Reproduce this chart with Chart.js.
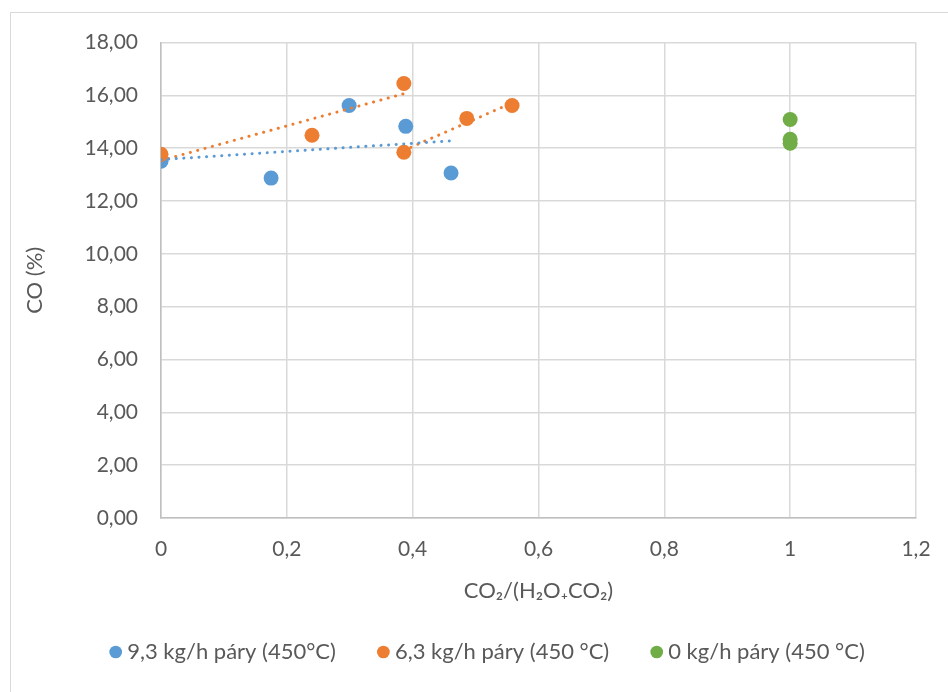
<!DOCTYPE html>
<html>
<head>
<meta charset="utf-8">
<script src="https://cdn.jsdelivr.net/npm/chart.js@4.4.1/dist/chart.umd.min.js"></script>
<style>
  html, body { margin: 0; padding: 0; background: #ffffff; overflow: hidden; width: 948px; height: 692px; }
  #frame { position: absolute; left: 10px; top: 12px; width: 952px; height: 690px; border: 1.5px solid #D9D9D9; box-sizing: border-box; }
  #wrap { position: absolute; left: 10px; top: 7px; width: 960px; height: 666px; }
</style>
</head>
<body>
<div id="frame"></div>
<div id="wrap"><canvas id="c" width="960" height="666"></canvas></div>
<script>
// ---- data ----
const seriesNames = ['9,3 kg/h páry (450°C)', '6,3 kg/h páry (450 °C)', '0 kg/h páry (450 °C)'];
const steam93X = [0, 0.175, 0.299, 0.389, 0.461];
const steam93Y = [13.51, 12.87, 15.62, 14.83, 13.06];
const steam63X = [0, 0.24, 0.386, 0.386, 0.486, 0.558];
const steam63Y = [13.77, 14.49, 16.45, 13.85, 15.13, 15.62];
const steam63TrendGroup = [0, 0, 0, 1, 1, 1];
const steam0X = [1, 1, 1];
const steam0Y = [15.09, 14.34, 14.19];
const xTickValues = [0, 0.2, 0.4, 0.6, 0.8, 1, 1.2];
const xTickLabels = ['0', '0,2', '0,4', '0,6', '0,8', '1', '1,2'];
const yTickValues = [0, 2, 4, 6, 8, 10, 12, 14, 16, 18];
const yTickLabels = ['0,00', '2,00', '4,00', '6,00', '8,00', '10,00', '12,00', '14,00', '16,00', '18,00'];
const xTitle = 'CO₂/(H₂O₊CO₂)';
const yTitle = 'CO (%)';

const colors = ['#5B9BD5', '#ED7D31', '#70AD47'];

function pts(xs, ys) { return xs.map((x, i) => ({ x: x, y: ys[i] })); }
function linFit(xs, ys) {
  const n = xs.length;
  const mx = xs.reduce((a, b) => a + b, 0) / n;
  const my = ys.reduce((a, b) => a + b, 0) / n;
  let sxy = 0, sxx = 0;
  for (let i = 0; i < n; i++) { sxy += (xs[i] - mx) * (ys[i] - my); sxx += (xs[i] - mx) ** 2; }
  const b = sxy / sxx, a = my - b * mx;
  const x0 = Math.min(...xs), x1 = Math.max(...xs);
  return [{ x: x0, y: a + b * x0 }, { x: x1, y: a + b * x1 }];
}
function groupFit(xs, ys, groups, g) {
  const gx = [], gy = [];
  xs.forEach((x, i) => { if (groups[i] === g) { gx.push(x); gy.push(ys[i]); } });
  return linFit(gx, gy);
}

const trendStyle = (color) => ({
  type: 'scatter', showLine: true, borderColor: color, borderWidth: 3,
  borderDash: [0.1, 7.5], borderCapStyle: 'round', pointRadius: 0, pointHoverRadius: 0,
  fill: false, order: 0, isTrend: true
});

const font = "Lato, 'Liberation Sans', 'DejaVu Sans', sans-serif";

new Chart(document.getElementById('c'), {
  type: 'scatter',
  data: {
    datasets: [
      { label: seriesNames[0], data: pts(steam93X, steam93Y), backgroundColor: colors[0], borderColor: colors[0], pointRadius: 7.5, pointBorderWidth: 0, order: 3 },
      { label: seriesNames[1], data: pts(steam63X, steam63Y), backgroundColor: colors[1], borderColor: colors[1], pointRadius: 7.5, pointBorderWidth: 0, order: 2 },
      { label: seriesNames[2], data: pts(steam0X, steam0Y), backgroundColor: colors[2], borderColor: colors[2], pointRadius: 7.5, pointBorderWidth: 0, order: 1 },
      Object.assign({ label: 't1', data: linFit(steam93X, steam93Y) }, trendStyle(colors[0])),
      Object.assign({ label: 't2', data: groupFit(steam63X, steam63Y, steam63TrendGroup, 0) }, trendStyle(colors[1])),
      Object.assign({ label: 't3', data: groupFit(steam63X, steam63Y, steam63TrendGroup, 1) }, trendStyle(colors[1]))
    ]
  },
  options: {
    responsive: false,
    animation: false,
    layout: { padding: { top: 24, right: 0, bottom: 0, left: 0 } },
    plugins: {
      tooltip: { enabled: false },
      legend: {
        position: 'bottom',
        labels: {
          usePointStyle: true, pointStyle: 'circle', boxWidth: 1, boxHeight: 9,
          color: '#595959', font: { family: font, size: 22 }, padding: 47,
          filter: (item, data) => !data.datasets[item.datasetIndex].isTrend,
          sort: (a, b) => a.datasetIndex - b.datasetIndex
        }
      }
    },
    scales: {
      x: {
        type: 'linear', min: 0, max: 1.2,
        afterFit: (s) => { s.height = 76; },
        afterBuildTicks: (s) => { s.ticks = xTickValues.map(v => ({ value: v })); },
        ticks: { color: '#595959', font: { family: font, size: 21 }, padding: 19,
          callback: (v) => { const i = xTickValues.findIndex(t => Math.abs(t - v) < 1e-9); return i >= 0 ? xTickLabels[i] : ''; } },
        grid: { color: '#D9D9D9', lineWidth: 1.5, drawTicks: false },
        border: { color: '#BFBFBF', width: 1.5 },
        title: { display: true, text: xTitle, color: '#595959', font: { family: font, size: 22 }, padding: { top: 0, bottom: -10 } }
      },
      y: {
        type: 'linear', min: 0, max: 18,
        afterFit: (s) => { s.width = 151; },
        afterBuildTicks: (s) => { s.ticks = yTickValues.map(v => ({ value: v })); },
        ticks: { color: '#595959', font: { family: font, size: 21 }, padding: 23,
          callback: (v) => { const i = yTickValues.indexOf(v); return i >= 0 ? yTickLabels[i] : ''; } },
        grid: { color: '#D9D9D9', lineWidth: 1.5, drawTicks: false },
        border: { color: '#BFBFBF', width: 1.5 },
        title: { display: true, text: yTitle, color: '#595959', font: { family: font, size: 22 }, padding: { top: 12, bottom: 0 } }
      },
      yRightSpace: {
        type: 'linear', position: 'right', min: 0, max: 18,
        afterFit: (s) => { s.width = 54; },
        ticks: { display: false },
        grid: { display: false, drawOnChartArea: false },
        border: { display: false },
        title: { display: false }
      }
    }
  }
});
</script>
</body>
</html>
